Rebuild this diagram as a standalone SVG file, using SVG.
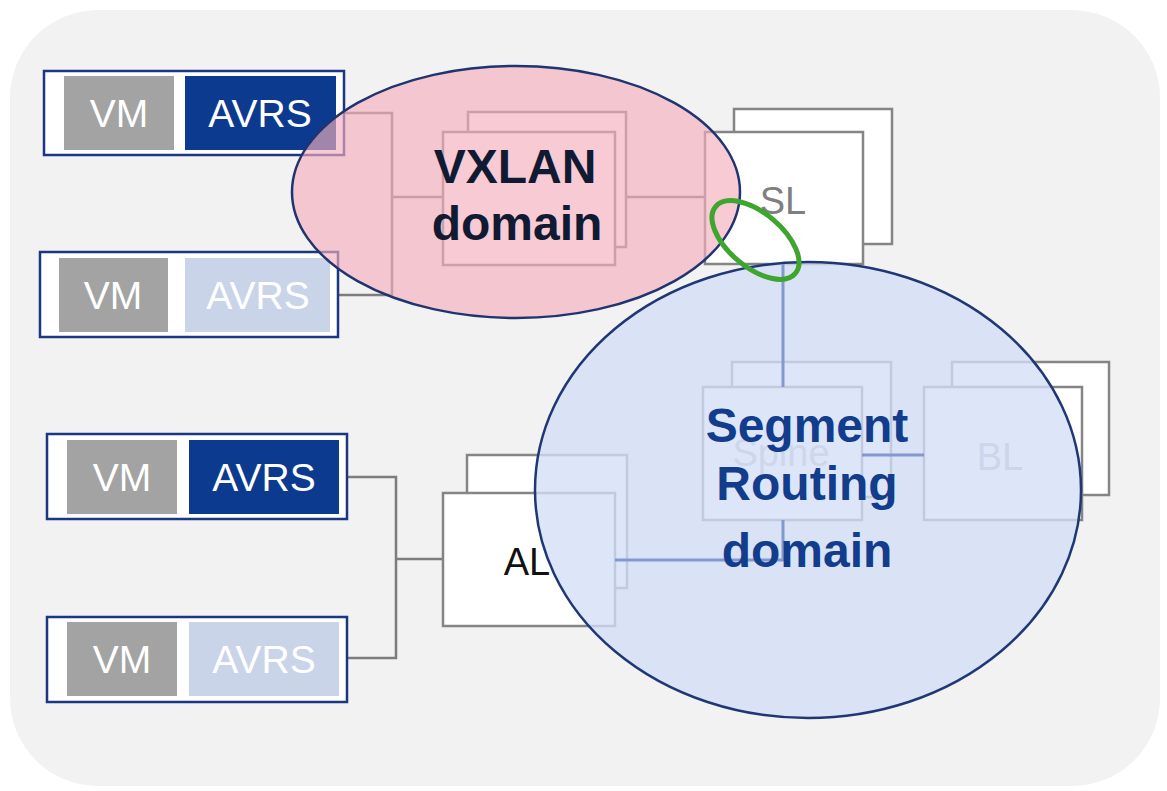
<svg xmlns="http://www.w3.org/2000/svg" width="1167" height="791" viewBox="0 0 1167 791">
  <style>
    .host { fill: #ffffff; stroke: #1b3784; stroke-width: 2.5; }
    .vm { fill: #a3a3a3; }
    .avrs-on { fill: #0b3a8e; }
    .avrs-off { fill: #c9d4e9; }
    .hl { font-family: "Liberation Sans", Arial, sans-serif; font-size: 39px; fill: #ffffff; text-anchor: middle; }
    .sw { fill: #ffffff; stroke: #858585; stroke-width: 2.5; }
    .lbl { font-family: "Liberation Sans", Arial, sans-serif; font-size: 38px; text-anchor: middle; }
    .wire { fill: none; stroke: #7d7d7d; stroke-width: 2.5; }
    .sr { fill: none; stroke: #8298cf; stroke-width: 3; }
    .domain { font-family: "Liberation Sans", Arial, sans-serif; font-size: 48px; font-weight: bold; text-anchor: middle; }
  </style>

  <!-- backdrop -->
  <rect x="0" y="0" width="1167" height="791" fill="#ffffff"/>
  <rect x="10" y="10" width="1150" height="776" rx="88" ry="88" fill="#f2f2f2"/>

  <!-- host-to-leaf wiring -->
  <g id="connectors">
    <polyline class="wire" points="344,113 392,113 392,295 338,295"/>
    <line class="wire" x1="392" y1="197" x2="443" y2="197"/>
    <line class="wire" x1="615" y1="197" x2="705" y2="197"/>
    <polyline class="wire" points="347,477 396,477 396,658 347,658"/>
    <line class="wire" x1="396" y1="559" x2="443" y2="559"/>
  </g>

  <!-- hosts -->
  <g id="host1">
    <rect class="host" x="44" y="71" width="300" height="84"/>
    <rect class="vm" x="64" y="76" width="110" height="74"/>
    <rect class="avrs-on" x="185" y="76" width="151" height="74"/>
    <text class="hl" x="119" y="127">VM</text>
    <text class="hl" x="260" y="127">AVRS</text>
  </g>
  <g id="host2">
    <rect class="host" x="40" y="252" width="298" height="85"/>
    <rect class="vm" x="59" y="258" width="109" height="74"/>
    <rect class="avrs-off" x="185" y="258" width="145" height="74"/>
    <text class="hl" x="113" y="309">VM</text>
    <text class="hl" x="258" y="309">AVRS</text>
  </g>
  <g id="host3">
    <rect class="host" x="47" y="434" width="300" height="85"/>
    <rect class="vm" x="67" y="440" width="110" height="74"/>
    <rect class="avrs-on" x="189" y="440" width="150" height="74"/>
    <text class="hl" x="122" y="491">VM</text>
    <text class="hl" x="264" y="491">AVRS</text>
  </g>
  <g id="host4">
    <rect class="host" x="47" y="617" width="300" height="85"/>
    <rect class="vm" x="67" y="622" width="110" height="74"/>
    <rect class="avrs-off" x="189" y="622" width="150" height="74"/>
    <text class="hl" x="122" y="673">VM</text>
    <text class="hl" x="264" y="673">AVRS</text>
  </g>

  <!-- switches -->
  <g id="leaf-top">
    <rect class="sw" x="468" y="112" width="158" height="135"/>
    <rect class="sw" x="443" y="132" width="172" height="133"/>
  </g>
  <g id="al">
    <rect class="sw" x="467" y="455" width="160" height="133"/>
    <rect class="sw" x="443" y="493" width="172" height="133"/>
    <text class="lbl" x="527" y="575" fill="#111111">AL</text>
  </g>
  <g id="sl">
    <rect class="sw" x="734" y="109" width="158" height="135"/>
    <rect class="sw" x="705" y="132" width="158" height="132"/>
    <text class="lbl" x="783" y="214" fill="#7f7f7f">SL</text>
  </g>
  <g id="spine">
    <rect class="sw" x="732" y="362" width="159" height="135"/>
    <rect class="sw" x="703" y="387" width="159" height="133"/>
    <text class="lbl" x="781" y="466" fill="#b9bcc4">Spine</text>
  </g>
  <g id="bl">
    <rect class="sw" x="952" y="362" width="157" height="133"/>
    <rect class="sw" x="924" y="387" width="158" height="133"/>
    <text class="lbl" x="1000" y="470" fill="#b3b6bf">BL</text>
  </g>

  <!-- domains -->
  <g id="vxlan-domain">
    <ellipse cx="516" cy="192" rx="224" ry="126" fill="#f5aebb" fill-opacity="0.65" stroke="#1f3470" stroke-width="2.5"/>
  </g>
  <g id="sr-domain">
    <ellipse cx="808" cy="490" rx="273" ry="228" fill="#d3def6" fill-opacity="0.78" stroke="#1f3875" stroke-width="2.5"/>
  </g>

  <!-- segment routing links -->
  <g id="sr-links">
    <line class="sr" x1="783" y1="264" x2="783" y2="387"/>
    <polyline class="sr" points="615,560 783,560 783,520"/>
    <line class="sr" x1="862" y1="455" x2="924" y2="455"/>
  </g>

  <!-- handoff point between the two domains -->
  <g id="handoff">
    <ellipse cx="755.5" cy="240" rx="52" ry="27" transform="rotate(40 755.5 240)" fill="none" stroke="#3ea52e" stroke-width="5"/>
  </g>

  <g id="domain-labels">
    <text class="domain" x="515" y="183" fill="#101a33">VXLAN</text>
    <text class="domain" x="517" y="240" fill="#101a33">domain</text>
    <text class="domain" x="807" y="442" fill="#123c8c">Segment</text>
    <text class="domain" x="807" y="500" fill="#123c8c">Routing</text>
    <text class="domain" x="807" y="567" fill="#123c8c">domain</text>
  </g>
</svg>
